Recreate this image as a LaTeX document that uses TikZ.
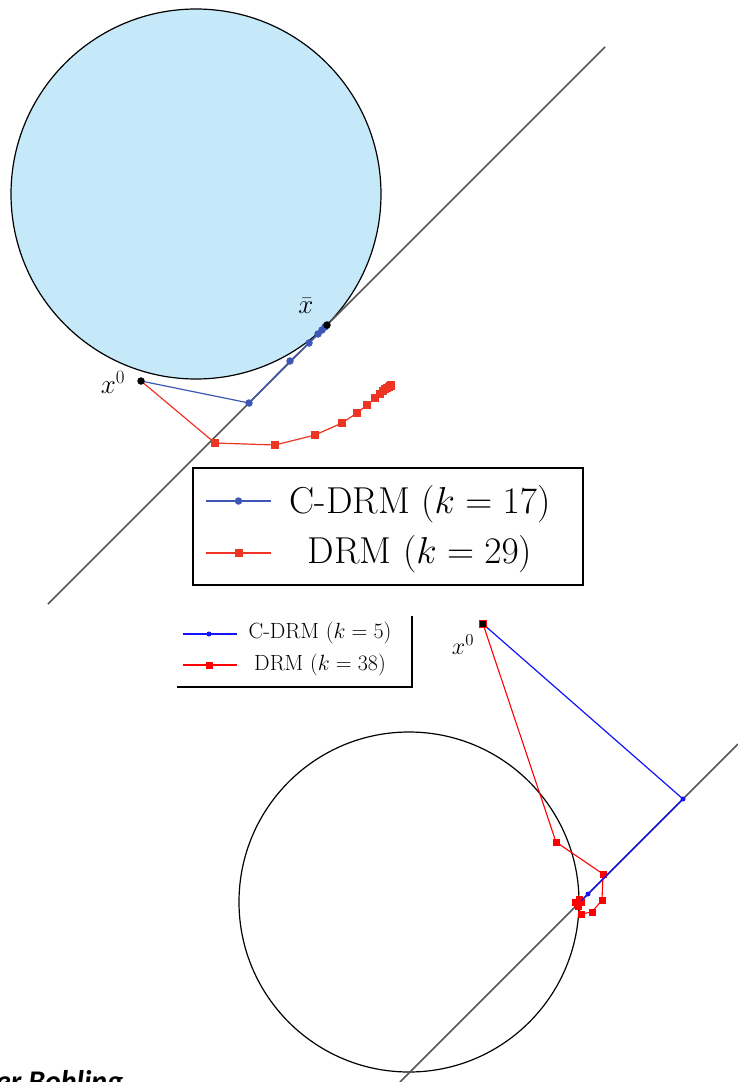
\RequirePackage{fix-cm}
\documentclass[tikz,border=0pt]{standalone}
\usepackage{fontspec}
\usepackage{tikz}
\usetikzlibrary{positioning}
\newfontfamily\notefont{Carlito}
\definecolor{setfill}{HTML}{C6E9FA}
\definecolor{linegray}{HTML}{555555}
\definecolor{cblue}{HTML}{3F57B4}
\definecolor{dred}{HTML}{EE3524}
\definecolor{cblueb}{HTML}{1414FF}
\definecolor{dredb}{HTML}{FF0000}
\newcommand{\legbig}{\fontsize{37.5}{40}\selectfont}
\newcommand{\legsmall}{\fontsize{22}{24}\selectfont}
\newcommand{\lblbig}{\fontsize{27}{29}\selectfont}
\newcommand{\lblsmall}{\fontsize{24}{26}\selectfont}

\begin{document}
\begin{tikzpicture}[x=1pt,y=-1pt,
  setline/.style={draw=black,line width=1.2pt},
  hypline/.style={draw=linegray,line width=1.5pt},
  cpath/.style={draw=cblue,line width=1.2pt},
  dpath/.style={draw=dred,line width=1.2pt},
  cdot/.style={circle,fill=cblue,inner sep=0pt,minimum size=7.5pt},
  dsq/.style={rectangle,fill=dred,inner sep=0pt,minimum size=8pt},
  cpathb/.style={draw=cblueb,line width=1.2pt},
  dpathb/.style={draw=dredb,line width=1.1pt},
  cdotb/.style={circle,fill=cblueb,inner sep=0pt,minimum size=5pt},
  dsqb/.style={rectangle,fill=dredb,inner sep=0pt,minimum size=7pt},
  start/.style={circle,fill=black,inner sep=0pt,minimum size=7.5pt}]
\useasboundingbox (0,0) rectangle (738,1082);

% upper panel
\draw[setline,fill=setfill] (196,194) circle[radius=185];
\coordinate (hA) at (605,47);
\coordinate (hB) at (48,604);
\draw[hypline] (hA) -- (hB);

\foreach \x/\y [count=\i from 0] in {141/381,215/443,275/445,315/435,342/423,357/413,367/405,375/398,380/394,383/391,385/389,387/388,388.5/387,389.5/386,390.5/385.5,391/385}
  \coordinate (d\i) at (\x,\y);
\draw[dpath] (d0) \foreach \i in {1,...,15}{ -- (d\i) };
\foreach \i in {1,...,15}
  \node[dsq] (dm\i) at (d\i) {};

\foreach \x/\y [count=\i from 0] in {141/381,249/403,290/361,309/343,318/334,322/330,325/327,326/326,327/325}
  \coordinate (c\i) at (\x,\y);
\draw[cpath] (c0) \foreach \i in {1,...,8}{ -- (c\i) };
\foreach \i in {1,...,7}
  \node[cdot] (cm\i) at (c\i) {};

\node[start] (xstart) at (c0) {};
\node[start] (xbar) at (c8) {};
\node[anchor=base,font=\lblbig] (xstartlbl) at (113,393) {$x^0$};
\node[anchor=base,font=\lblbig] (xbarlbl) at (306,313) {$\bar{x}$};

% upper legend
\node[draw=black,line width=1.2pt,fill=white,minimum width=390pt,minimum height=117pt,inner sep=0pt] (legA) at (388,526.5) {};
\coordinate (la1) at (206,501); \coordinate (la2) at (271,501);
\coordinate (lb1) at (206,553); \coordinate (lb2) at (271,553);
\draw[cpath] (la1) -- (la2);
\draw[dpath] (lb1) -- (lb2);
\node[cdot] (lam) at (238.5,501) {};
\node[dsq] (lbm) at (238.5,553) {};
\node[anchor=base,font=\legbig] (latxt) at (420,513) {C-DRM ($k=17$)};
\node[anchor=base,font=\legbig] (lbtxt) at (420,563) {DRM ($k=29$)};

% lower panel
\draw[setline] (409,902) circle[radius=170];
\coordinate (gA) at (738,744);
\coordinate (gB) at (400,1082);
\draw[hypline] (gA) -- (gB);

\foreach \x/\y [count=\i from 0] in {483/624,556/842,603/874,602/900,592/912,581/914,578/906,575/902,579/899,581/902,577/904,579/901}
  \coordinate (e\i) at (\x,\y);
\draw[dpathb] (e0) \foreach \i in {1,...,11}{ -- (e\i) };
\foreach \i in {1,...,11}
  \node[dsqb] (em\i) at (e\i) {};

\foreach \x/\y [count=\i from 0] in {483/624,683/799,588/894,583/899,581/901}
  \coordinate (f\i) at (\x,\y);
\draw[cpathb] (f0) \foreach \i in {1,...,4}{ -- (f\i) };
\foreach \i in {1,2}
  \node[cdotb] (fm\i) at (f\i) {};

\node[rectangle,fill=black,draw=dredb,line width=0.8pt,inner sep=0pt,minimum size=7pt] (ystart) at (f0) {};
\node[anchor=base,font=\lblsmall] (ystartlbl) at (463,654) {$x^0$};

% lower legend (cut off at left and top)
\coordinate (lg1) at (177,687);
\coordinate (lg2) at (412,687);
\coordinate (lg3) at (412,616);
\draw[black,line width=1.6pt] (lg1) -- (lg2) -- (lg3);
\coordinate (lc1) at (183,634); \coordinate (lc2) at (237,634);
\coordinate (ld1) at (183,665); \coordinate (ld2) at (237,665);
\draw[cpathb] (lc1) -- (lc2);
\draw[dpathb] (ld1) -- (ld2);
\node[cdotb] (lcm) at (209,634) {};
\node[dsqb] (ldm) at (209,665) {};
\node[anchor=base,font=\legsmall] (lctxt) at (320,638) {C-DRM ($k=5$)};
\node[anchor=base,font=\legsmall] (ldtxt) at (320,670) {DRM ($k=38$)};

% caption fragment at the foot
\node[anchor=base west,inner sep=0pt,font=\notefont\fontsize{30}{32}\selectfont\bfseries\itshape] (foot) at (-4,1091) {er Bohling};
\end{tikzpicture}
\end{document}
